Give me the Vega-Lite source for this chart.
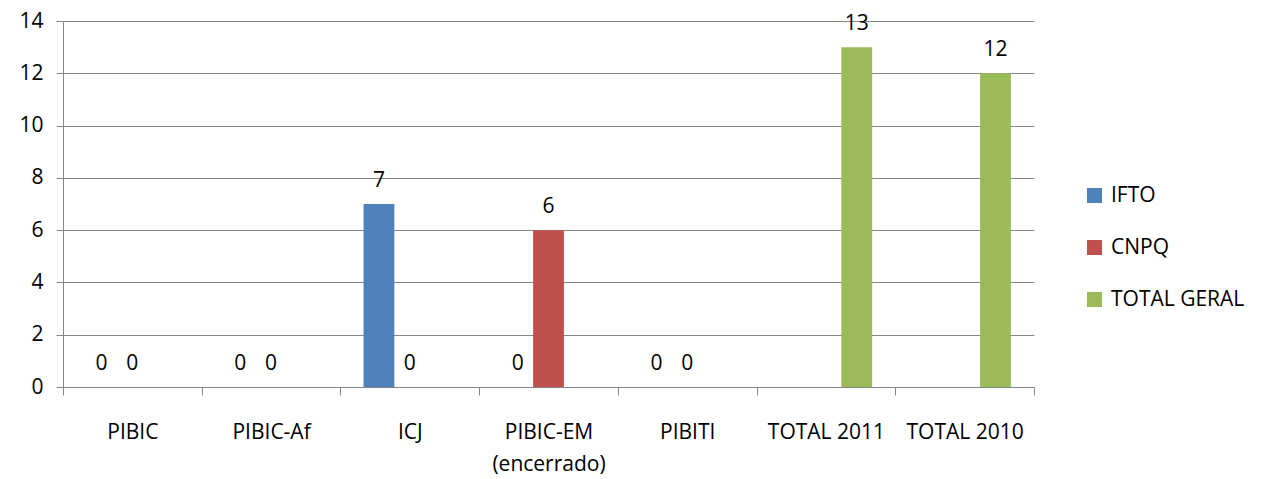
{
  "$schema": "https://vega.github.io/schema/vega-lite/v6.json",
  "autosize": "none",
  "width": 971,
  "height": 366,
  "padding": {"left": 63, "top": 21, "right": 228, "bottom": 92},
  "background": "white",
  "config": {
    "view": {"stroke": null},
    "font": "Open Sans",
    "axis": {"labelFont": "Open Sans", "labelColor": "black", "labelFontSize": 21, "domainColor": "#868686", "tickColor": "#868686", "gridColor": "#868686", "title": null},
    "legend": {"labelFont": "Open Sans", "labelFontSize": 21, "labelColor": "black"}
  },
  "data": {
    "values": [
      {"cat": "PIBIC", "series": "IFTO", "v": 0},
      {"cat": "PIBIC", "series": "CNPQ", "v": 0},
      {"cat": "PIBIC-Af", "series": "IFTO", "v": 0},
      {"cat": "PIBIC-Af", "series": "CNPQ", "v": 0},
      {"cat": "ICJ", "series": "IFTO", "v": 7},
      {"cat": "ICJ", "series": "CNPQ", "v": 0},
      {"cat": "PIBIC-EM (encerrado)", "series": "IFTO", "v": 0},
      {"cat": "PIBIC-EM (encerrado)", "series": "CNPQ", "v": 6},
      {"cat": "PIBITI", "series": "IFTO", "v": 0},
      {"cat": "PIBITI", "series": "CNPQ", "v": 0},
      {"cat": "TOTAL 2011", "series": "TOTAL GERAL", "v": 13},
      {"cat": "TOTAL 2010", "series": "TOTAL GERAL", "v": 12}
    ]
  },
  "encoding": {
    "x": {
      "field": "cat", "type": "nominal",
      "sort": ["PIBIC", "PIBIC-Af", "ICJ", "PIBIC-EM (encerrado)", "PIBITI", "TOTAL 2011", "TOTAL 2010"],
      "scale": {"paddingInner": 0, "paddingOuter": 0},
      "axis": {
        "labelAngle": 0, "tickBand": "extent", "tickSize": 8, "labelPadding": 26,
        "labelExpr": "datum.value == 'PIBIC-EM (encerrado)' ? ['PIBIC-EM', '(encerrado)'] : datum.value",
        "labelLineHeight": 32, "grid": false
      }
    },
    "xOffset": {
      "field": "series", "type": "nominal",
      "sort": ["IFTO", "CNPQ", "TOTAL GERAL"],
      "scale": {"domain": ["IFTO", "CNPQ", "TOTAL GERAL"], "paddingInner": 0, "paddingOuter": 0.75}
    },
    "y": {
      "field": "v", "type": "quantitative",
      "scale": {"domain": [0, 14], "nice": false},
      "axis": {"values": [0, 2, 4, 6, 8, 10, 12, 14], "tickSize": 7, "labelPadding": 13, "grid": true}
    }
  },
  "layer": [
    {
      "mark": {"type": "bar"},
      "encoding": {
        "color": {
          "field": "series", "type": "nominal",
          "scale": {"domain": ["IFTO", "CNPQ", "TOTAL GERAL"], "range": ["#4F81BD", "#C0504D", "#9BBB59"]},
          "legend": {"title": null, "orient": "none", "legendX": 1021, "legendY": 164, "symbolType": "square", "symbolSize": 225, "rowPadding": 30, "labelOffset": 6, "symbolStrokeWidth": 0}
        }
      }
    },
    {
      "mark": {"type": "text", "baseline": "alphabetic", "dy": -17, "fontSize": 21, "font": "Open Sans", "color": "black"},
      "encoding": {"text": {"field": "v", "type": "quantitative"}}
    }
  ]
}
